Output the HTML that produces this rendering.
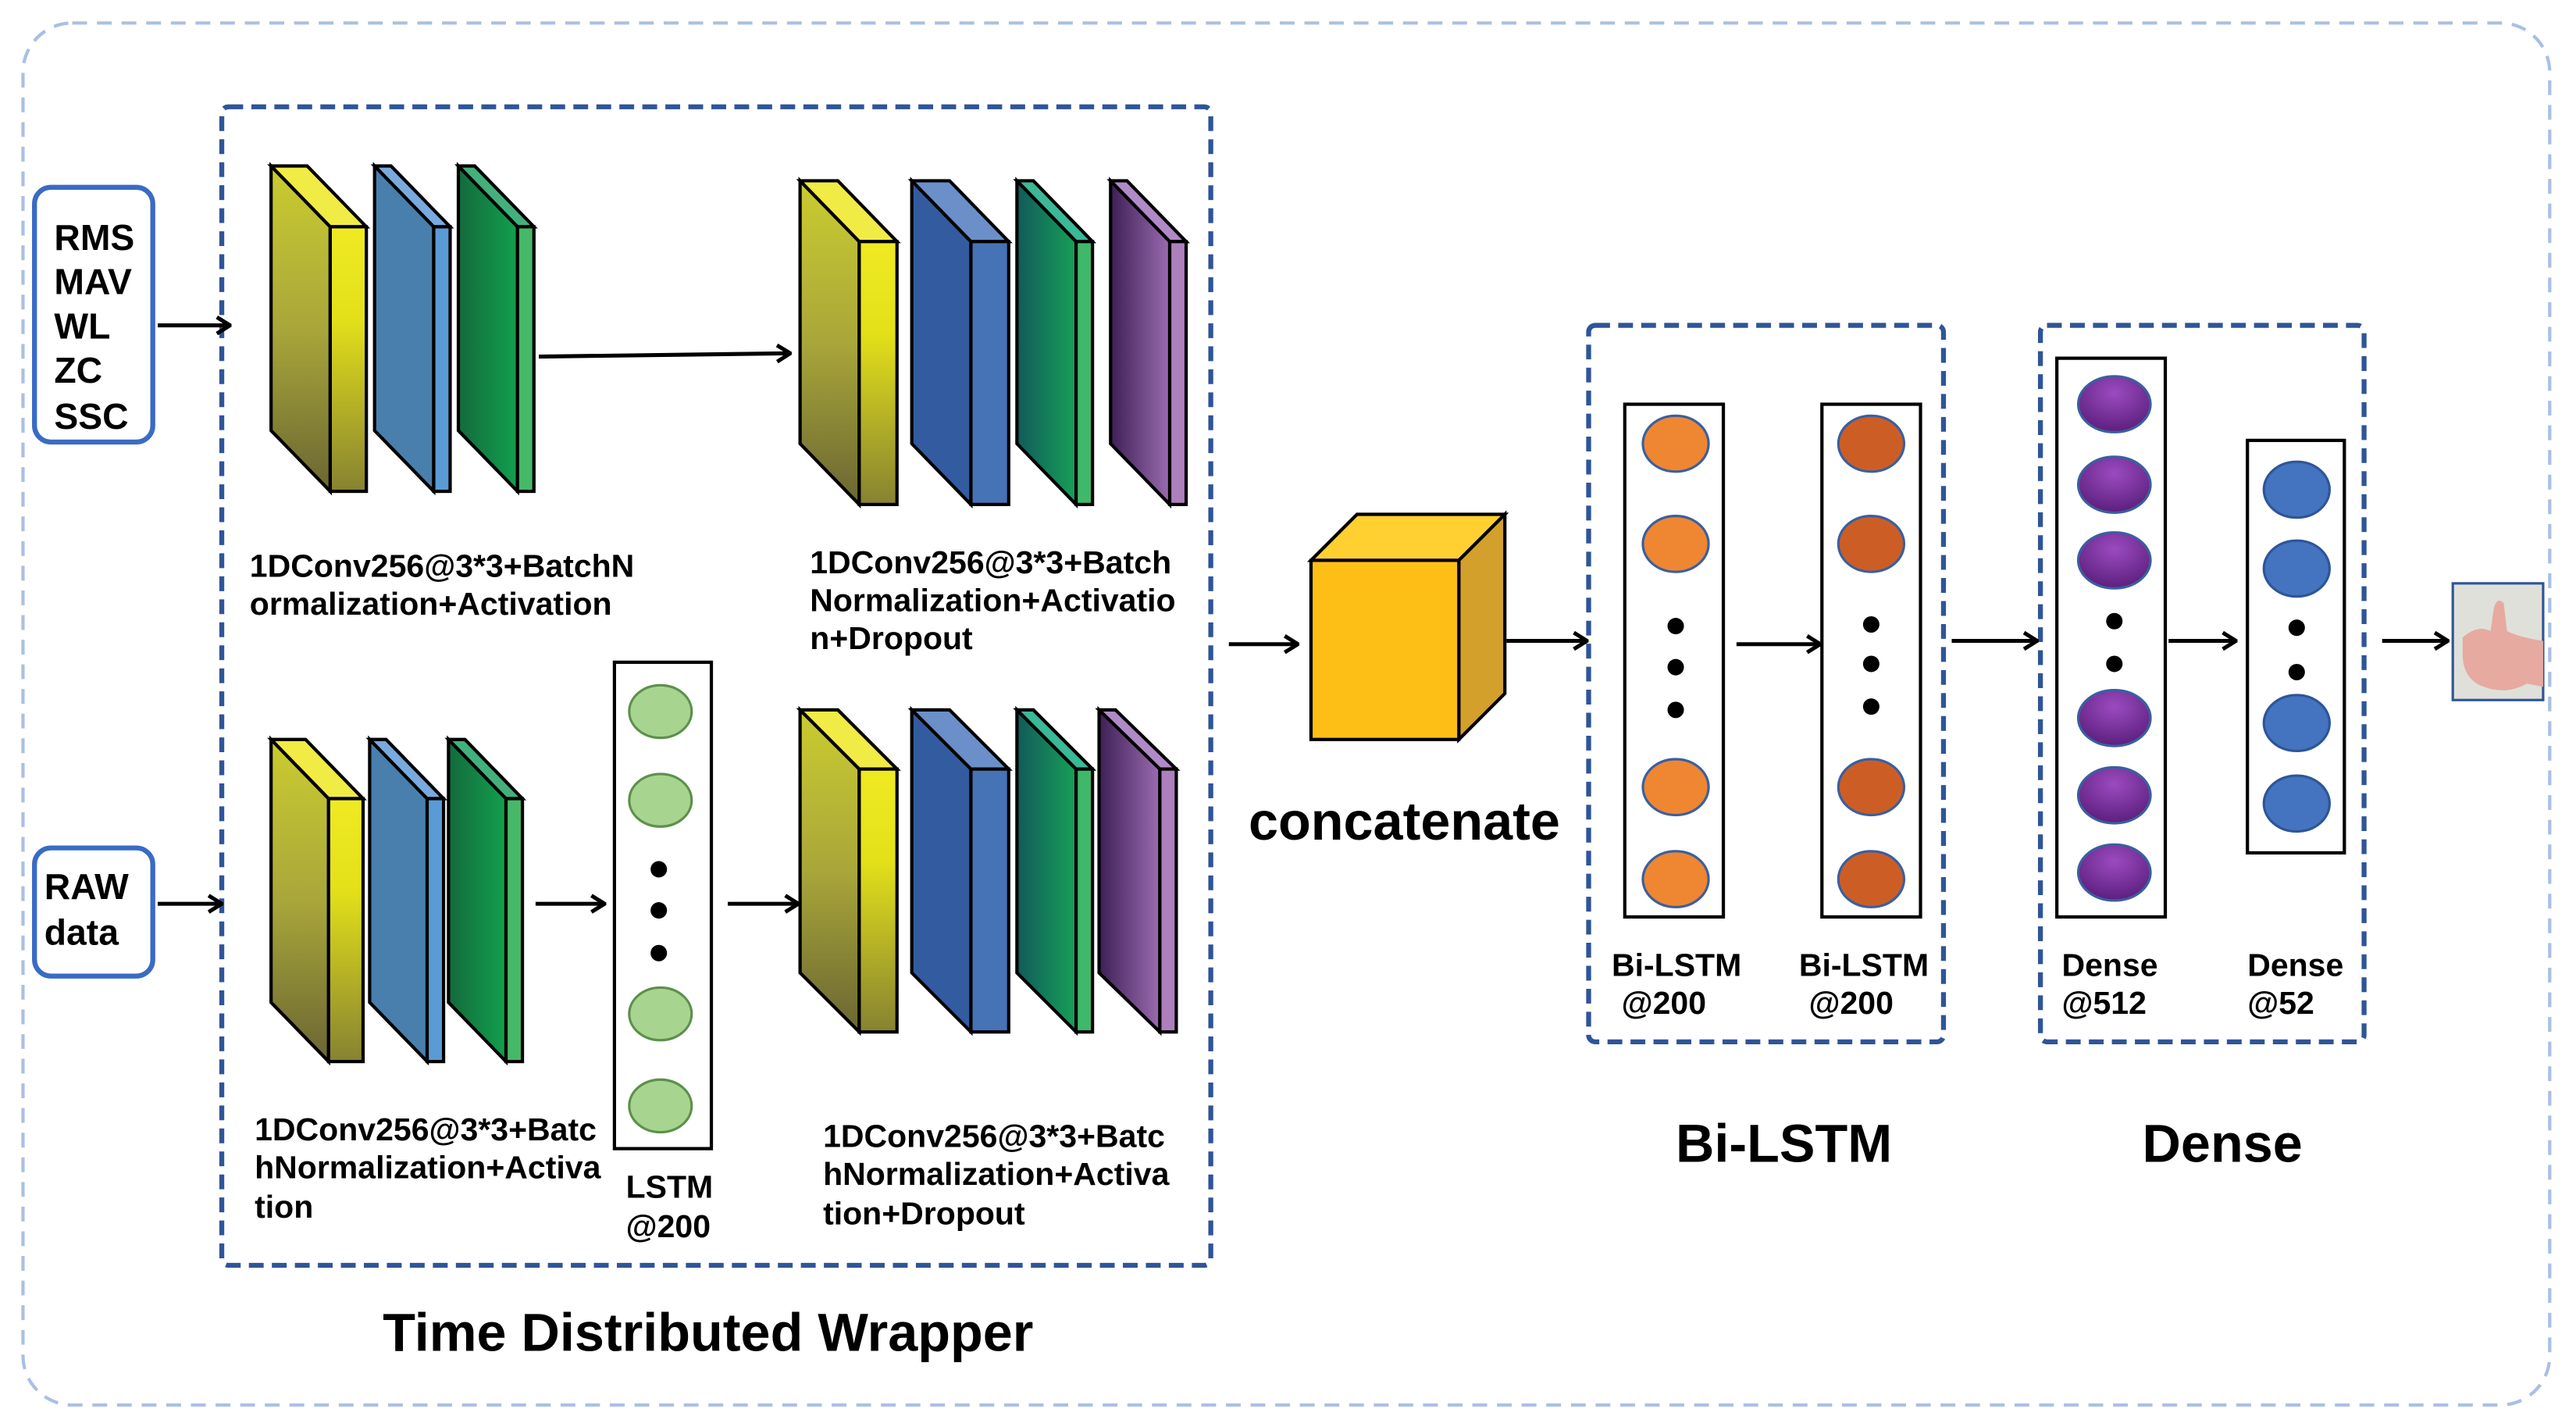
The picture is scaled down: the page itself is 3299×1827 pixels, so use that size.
<!DOCTYPE html>
<html><head><meta charset="utf-8"><style>
html,body{margin:0;padding:0;background:#fff;}
svg{display:block}
text{font-family:"Liberation Sans",Arial,sans-serif;font-weight:bold;fill:#000}
</style></head><body>
<svg width="3299" height="1827" viewBox="0 0 1568 868.4" preserveAspectRatio="none" xmlns="http://www.w3.org/2000/svg">
<defs>
<linearGradient id="yl" x1="0" y1="0" x2="0" y2="1"><stop offset="0" stop-color="#cbcc30"/><stop offset="0.5" stop-color="#a9a63a"/><stop offset="1" stop-color="#6a6632"/></linearGradient>
<linearGradient id="yf" x1="0" y1="0" x2="0" y2="1"><stop offset="0" stop-color="#efea22"/><stop offset="0.35" stop-color="#e3e01a"/><stop offset="1" stop-color="#868232"/></linearGradient>
<linearGradient id="gl" x1="0" y1="0" x2="1" y2="0"><stop offset="0" stop-color="#136a3c"/><stop offset="1" stop-color="#12a04e"/></linearGradient>
<linearGradient id="gl2" x1="0" y1="0" x2="1" y2="0"><stop offset="0" stop-color="#125a5a"/><stop offset="1" stop-color="#17a058"/></linearGradient>
<linearGradient id="pl" x1="0" y1="0" x2="1" y2="0"><stop offset="0" stop-color="#3e1f55"/><stop offset="1" stop-color="#9a6cb0"/></linearGradient>
<radialGradient id="pc" cx="0.5" cy="0.3" r="0.7"><stop offset="0" stop-color="#9b4bbf"/><stop offset="1" stop-color="#5c1f7e"/></radialGradient>
<marker id="ah" markerWidth="10" markerHeight="12" refX="9" refY="6" orient="auto" markerUnits="userSpaceOnUse"><polyline points="1,1 9,6 1,11" fill="none" stroke="#000" stroke-width="2.4"/></marker>
</defs>

<rect x="14" y="14" width="1538" height="841" rx="30" fill="none" stroke="#a9bfe6" stroke-width="2" stroke-dasharray="9,6"/>
<rect x="135" y="65" width="602" height="705" rx="4" fill="none" stroke="#2e5597" stroke-width="3" stroke-dasharray="9,5"/>
<rect x="967" y="198" width="216" height="436" rx="4" fill="none" stroke="#2e5597" stroke-width="3" stroke-dasharray="9,5"/>
<rect x="1242" y="198" width="197" height="436" rx="4" fill="none" stroke="#2e5597" stroke-width="3" stroke-dasharray="9,5"/>

<rect x="21" y="114" width="72" height="155" rx="10" fill="#fff" stroke="#3a6bc4" stroke-width="3"/>
<text x="33" y="152" font-size="22">RMS</text>
<text x="33" y="179" font-size="22">MAV</text>
<text x="33" y="206" font-size="22">WL</text>
<text x="33" y="233" font-size="22">ZC</text>
<text x="33" y="261" font-size="22">SSC</text>
<rect x="21" y="516" width="72" height="78" rx="10" fill="#fff" stroke="#3a6bc4" stroke-width="3"/>
<text x="27" y="547" font-size="22">RAW</text>
<text x="27" y="575" font-size="22">data</text>

<g stroke="#000" stroke-width="2.4" marker-end="url(#ah)">
<line x1="96" y1="198" x2="140" y2="198"/>
<line x1="96" y1="550" x2="135" y2="550"/>
<line x1="328" y1="217" x2="481" y2="215"/>
<line x1="326" y1="550" x2="368" y2="550"/>
<line x1="443" y1="550" x2="486" y2="550"/>
<line x1="748" y1="392" x2="790" y2="392"/>
<line x1="917" y1="390" x2="966" y2="390"/>
<line x1="1057" y1="392" x2="1108" y2="392"/>
<line x1="1188" y1="390" x2="1240" y2="390"/>
<line x1="1320" y1="390" x2="1361" y2="390"/>
<line x1="1450" y1="390" x2="1490" y2="390"/>
</g>

<g stroke="#000" stroke-width="2" stroke-linejoin="miter">
<path d="M165,101 L201,138 L201,299 L165,262Z" fill="url(#yl)"/>
<path d="M165,101 L187,101 L223,138 L201,138Z" fill="#f1eb45"/>
<rect x="201" y="138" width="22" height="161" fill="url(#yf)"/>
<path d="M228,101 L264,138 L264,299 L228,262Z" fill="#497fad"/>
<path d="M228,101 L238,101 L274,138 L264,138Z" fill="#79aade"/>
<rect x="264" y="138" width="10" height="161" fill="#5b9bd5"/>
<path d="M279,101 L315,138 L315,299 L279,262Z" fill="url(#gl)"/>
<path d="M279,101 L289,101 L325,138 L315,138Z" fill="#43b07c"/>
<rect x="315" y="138" width="10" height="161" fill="#46b968"/>
<path d="M487,110 L523,147 L523,307 L487,270Z" fill="url(#yl)"/>
<path d="M487,110 L510,110 L546,147 L523,147Z" fill="#f1eb45"/>
<rect x="523" y="147" width="23" height="160" fill="url(#yf)"/>
<path d="M555,110 L591,147 L591,307 L555,270Z" fill="#335ca0"/>
<path d="M555,110 L578,110 L614,147 L591,147Z" fill="#6b8fc9"/>
<rect x="591" y="147" width="23" height="160" fill="#4672b6"/>
<path d="M619,110 L655,147 L655,307 L619,270Z" fill="url(#gl2)"/>
<path d="M619,110 L629,110 L665,147 L655,147Z" fill="#3bb896"/>
<rect x="655" y="147" width="10" height="160" fill="#3fb86a"/>
<path d="M676,110 L712,147 L712,307 L676,270Z" fill="url(#pl)"/>
<path d="M676,110 L686,110 L722,147 L712,147Z" fill="#b08ac6"/>
<rect x="712" y="147" width="10" height="160" fill="#ad7fbc"/>
<path d="M165,450 L200,486 L200,646 L165,610Z" fill="url(#yl)"/>
<path d="M165,450 L186,450 L221,486 L200,486Z" fill="#f1eb45"/>
<rect x="200" y="486" width="21" height="160" fill="url(#yf)"/>
<path d="M225,450 L260,486 L260,646 L225,610Z" fill="#497fad"/>
<path d="M225,450 L235,450 L270,486 L260,486Z" fill="#79aade"/>
<rect x="260" y="486" width="10" height="160" fill="#5b9bd5"/>
<path d="M273,450 L308,486 L308,646 L273,610Z" fill="url(#gl)"/>
<path d="M273,450 L283,450 L318,486 L308,486Z" fill="#43b07c"/>
<rect x="308" y="486" width="10" height="160" fill="#46b968"/>
<path d="M487,432 L523,468 L523,628 L487,592Z" fill="url(#yl)"/>
<path d="M487,432 L510,432 L546,468 L523,468Z" fill="#f1eb45"/>
<rect x="523" y="468" width="23" height="160" fill="url(#yf)"/>
<path d="M555,432 L591,468 L591,628 L555,592Z" fill="#335ca0"/>
<path d="M555,432 L578,432 L614,468 L591,468Z" fill="#6b8fc9"/>
<rect x="591" y="468" width="23" height="160" fill="#4672b6"/>
<path d="M619,432 L655,468 L655,628 L619,592Z" fill="url(#gl2)"/>
<path d="M619,432 L629,432 L665,468 L655,468Z" fill="#3bb896"/>
<rect x="655" y="468" width="10" height="160" fill="#3fb86a"/>
<path d="M669,432 L706,468 L706,628 L669,592Z" fill="url(#pl)"/>
<path d="M669,432 L679,432 L716,468 L706,468Z" fill="#b08ac6"/>
<rect x="706" y="468" width="10" height="160" fill="#ad7fbc"/>
<path d="M798,341 L826,313 L916,313 L888,341Z" fill="#ffd030"/>
<path d="M888,341 L916,313 L916,422 L888,450Z" fill="#d3a02c"/>
<rect x="798" y="341" width="90" height="109" fill="#fdbf16"/>
</g>

<rect x="374" y="403" width="59" height="296" fill="#fff" stroke="#000" stroke-width="2"/>
<g fill="#a7d58f" stroke="#5e8f4c" stroke-width="1.5">
<ellipse cx="402" cy="433" rx="19" ry="16"/><ellipse cx="402" cy="487" rx="19" ry="16"/>
<ellipse cx="402" cy="617" rx="19" ry="16"/><ellipse cx="402" cy="673" rx="19" ry="16"/>
</g>
<g fill="#000"><circle cx="401" cy="529" r="5"/><circle cx="401" cy="554" r="5"/><circle cx="401" cy="580" r="5"/></g>

<rect x="989" y="246" width="60" height="312" fill="#fff" stroke="#000" stroke-width="2"/>
<rect x="1109" y="246" width="60" height="312" fill="#fff" stroke="#000" stroke-width="2"/>
<g fill="#ef8631" stroke="#3a5fa0" stroke-width="1.5">
<ellipse cx="1020" cy="270" rx="20" ry="17"/><ellipse cx="1020" cy="331" rx="20" ry="17"/>
<ellipse cx="1020" cy="479" rx="20" ry="17"/><ellipse cx="1020" cy="535" rx="20" ry="17"/>
</g>
<g fill="#cc5e25" stroke="#3a5fa0" stroke-width="1.5">
<ellipse cx="1139" cy="270" rx="20" ry="17"/><ellipse cx="1139" cy="331" rx="20" ry="17"/>
<ellipse cx="1139" cy="479" rx="20" ry="17"/><ellipse cx="1139" cy="535" rx="20" ry="17"/>
</g>
<g fill="#000">
<circle cx="1020" cy="381" r="5"/><circle cx="1020" cy="406" r="5"/><circle cx="1020" cy="432" r="5"/>
<circle cx="1139" cy="380" r="5"/><circle cx="1139" cy="404" r="5"/><circle cx="1139" cy="430" r="5"/>
</g>

<rect x="1252" y="218" width="66" height="340" fill="#fff" stroke="#000" stroke-width="2"/>
<rect x="1368" y="268" width="59" height="251" fill="#fff" stroke="#000" stroke-width="2"/>
<g fill="url(#pc)" stroke="#3a5fa0" stroke-width="1.5">
<ellipse cx="1287" cy="246" rx="22" ry="17"/><ellipse cx="1287" cy="295" rx="22" ry="17"/>
<ellipse cx="1287" cy="341" rx="22" ry="17"/><ellipse cx="1287" cy="437" rx="22" ry="17"/>
<ellipse cx="1287" cy="484" rx="22" ry="17"/><ellipse cx="1287" cy="531" rx="22" ry="17"/>
</g>
<g fill="#4473c0" stroke="#2e5597" stroke-width="1.5">
<ellipse cx="1398" cy="298" rx="20" ry="17"/><ellipse cx="1398" cy="346" rx="20" ry="17"/>
<ellipse cx="1398" cy="440" rx="20" ry="17"/><ellipse cx="1398" cy="489" rx="20" ry="17"/>
</g>
<g fill="#000">
<circle cx="1287" cy="378" r="5"/><circle cx="1287" cy="404" r="5"/>
<circle cx="1398" cy="382" r="5"/><circle cx="1398" cy="409" r="5"/>
</g>

<rect x="1493" y="355" width="55" height="71" fill="#dfe0da" stroke="#2e5597" stroke-width="1.5"/>
<path d="M1499,388 Q1508,380 1516,384 L1518,370 Q1520,363 1524,367 L1526,384 Q1534,388 1548,390 L1548,418 L1538,416 Q1526,423 1512,418 Q1500,414 1499,400Z" fill="#e6aaa0"/>

<g font-size="19.5">
<text x="152" y="351">1DConv256@3*3+BatchN</text>
<text x="152" y="374">ormalization+Activation</text>
<text x="493" y="349">1DConv256@3*3+Batch</text>
<text x="493" y="372">Normalization+Activatio</text>
<text x="493" y="395">n+Dropout</text>
<text x="155" y="694">1DConv256@3*3+Batc</text>
<text x="155" y="717">hNormalization+Activa</text>
<text x="155" y="741">tion</text>
<text x="381" y="729">LSTM</text>
<text x="381" y="753">@200</text>
<text x="501" y="698">1DConv256@3*3+Batc</text>
<text x="501" y="721">hNormalization+Activa</text>
<text x="501" y="745">tion+Dropout</text>
<text x="981" y="594">Bi-LSTM</text>
<text x="987" y="617">@200</text>
<text x="1095" y="594">Bi-LSTM</text>
<text x="1101" y="617">@200</text>
<text x="1255" y="594">Dense</text>
<text x="1255" y="617">@512</text>
<text x="1368" y="594">Dense</text>
<text x="1368" y="617">@52</text>
</g>
<text x="760" y="511" font-size="32.5">concatenate</text>
<text x="233" y="822" font-size="32.5">Time Distributed Wrapper</text>
<text x="1020" y="707" font-size="32.5">Bi-LSTM</text>
<text x="1304" y="707" font-size="32.5">Dense</text>
</svg>
</body></html>
